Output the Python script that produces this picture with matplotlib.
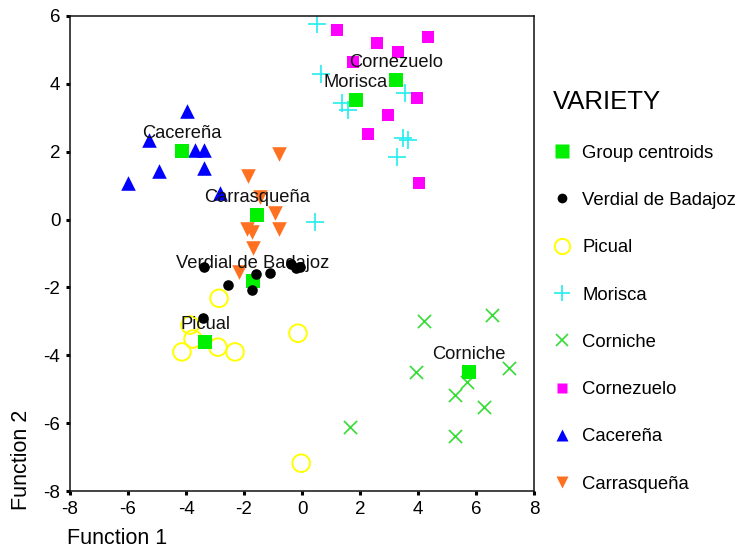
import matplotlib
matplotlib.use("Agg")
import matplotlib.pyplot as plt
from matplotlib.lines import Line2D

plt.rcParams['font.family'] = ['Liberation Sans', 'DejaVu Sans']
plt.rcParams['axes.unicode_minus'] = False

# ---- data ----
centroid_names = ["Cacereña", "Carrasqueña", "Verdial de Badajoz", "Picual",
                  "Morisca", "Cornezuelo", "Corniche"]
centroid_x = [-4.14, -1.55, -1.69, -3.34, 1.86, 3.24, 5.76]
centroid_y = [2.02, 0.13, -1.81, -3.61, 3.52, 4.11, -4.50]

verdial_x = [-3.38, -2.55, -1.59, -1.72, -1.10, -0.38, -0.21, -0.07, -3.41]
verdial_y = [-1.40, -1.94, -1.61, -2.08, -1.58, -1.32, -1.43, -1.40, -2.91]

picual_x = [-2.86, -3.86, -3.76, -4.14, -2.90, -2.31, -0.14, -0.03]
picual_y = [-2.32, -3.11, -3.52, -3.90, -3.76, -3.90, -3.35, -7.18]

morisca_x = [0.52, 0.66, 1.38, 1.59, 3.55, 3.48, 3.66, 3.28, 0.45]
morisca_y = [5.76, 4.29, 3.43, 3.23, 3.73, 2.40, 2.34, 1.84, -0.08]

corniche_x = [4.21, 6.55, 3.93, 7.14, 5.69, 5.28, 6.28, 1.66, 5.28]
corniche_y = [-3.00, -2.82, -4.48, -4.36, -4.80, -5.18, -5.53, -6.12, -6.39]

cornezuelo_x = [1.21, 2.59, 3.31, 4.34, 1.76, 3.97, 2.97, 2.28, 4.03]
cornezuelo_y = [5.58, 5.19, 4.95, 5.37, 4.63, 3.58, 3.08, 2.52, 1.07]

cacerena_x = [-3.97, -5.28, -3.69, -3.38, -4.93, -3.38, -6.00, -2.83]
cacerena_y = [3.20, 2.34, 2.05, 2.05, 1.43, 1.52, 1.07, 0.78]

carrasquena_x = [-0.79, -1.86, -1.45, -0.93, -1.90, -1.72, -0.79, -1.69, -2.17]
carrasquena_y = [1.93, 1.28, 0.66, 0.19, -0.28, -0.37, -0.28, -0.84, -1.55]

legend_labels = ["Group centroids", "Verdial de Badajoz", "Picual", "Morisca",
                 "Corniche", "Cornezuelo", "Cacereña", "Carrasqueña"]
x_ticks = [-8, -6, -4, -2, 0, 2, 4, 6, 8]
y_ticks = [-8, -6, -4, -2, 0, 2, 4, 6]

# ---- styles ----
C_CENT = '#00f000'
C_VERD = '#000000'
C_PIC = '#ffff00'
C_MOR = '#22eeee'
C_CORN = '#33dd33'
C_CZ = '#ff00ff'
C_CAC = '#0000ff'
C_CAR = '#ff7020'

fig = plt.figure(figsize=(7.39, 5.53), dpi=100)
ax = fig.add_axes([0.0947, 0.1121, 0.628, 0.859])

ax.scatter(cacerena_x, cacerena_y, marker='^', s=110, color=C_CAC, linewidths=0, zorder=2)
ax.scatter(carrasquena_x, carrasquena_y, marker='v', s=110, color=C_CAR, linewidths=0, zorder=2)
ax.scatter(picual_x, picual_y, marker='o', s=160, facecolors='none', edgecolors=C_PIC, linewidths=1.4, zorder=2)
ax.scatter(morisca_x, morisca_y, marker='+', s=150, color=C_MOR, linewidths=1.2, zorder=2)
ax.scatter(corniche_x, corniche_y, marker='x', s=90, color=C_CORN, linewidths=1.2, zorder=2)
ax.scatter(cornezuelo_x, cornezuelo_y, marker='s', s=64, color=C_CZ, linewidths=0, zorder=2)
ax.scatter(centroid_x, centroid_y, marker='s', s=110, color=C_CENT, linewidths=0, zorder=2.5)
ax.scatter(verdial_x, verdial_y, marker='o', s=58, color=C_VERD, linewidths=0, zorder=4)

for name, cx, cy in zip(centroid_names, centroid_x, centroid_y):
    ax.annotate(name, (cx, cy), xytext=(0, 12.5), textcoords='offset points',
                ha='center', va='center', fontsize=13.2, color='#111111', zorder=3)

ax.set_xlim(-8, 8)
ax.set_ylim(-8, 6)
ax.set_xticks(x_ticks)
ax.set_yticks(y_ticks)
ax.tick_params(direction='out', length=3, width=2.2, labelsize=13.5, pad=4, color='black')
for sp in ax.spines.values():
    sp.set_linewidth(1.1)
    sp.set_color('#111111')

fig.text(67 / 739, 1 - 538 / 553, "Function 1", fontsize=15.5, ha='left', va='center')
fig.text(22 / 739, 1 - 510 / 553, "Function 2", fontsize=15.5, rotation=90, ha='center', va='bottom')

handles = [
    Line2D([], [], ls='none', marker='s', ms=10, mfc=C_CENT, mec='none'),
    Line2D([], [], ls='none', marker='o', ms=7, mfc=C_VERD, mec='none'),
    Line2D([], [], ls='none', marker='o', ms=11, mfc='none', mec=C_PIC, mew=1.4),
    Line2D([], [], ls='none', marker='+', ms=12, color=C_MOR, mew=1.2),
    Line2D([], [], ls='none', marker='x', ms=8, color=C_CORN, mew=1.2),
    Line2D([], [], ls='none', marker='s', ms=7.5, mfc=C_CZ, mec='none'),
    Line2D([], [], ls='none', marker='^', ms=9, mfc=C_CAC, mec='none'),
    Line2D([], [], ls='none', marker='v', ms=9, mfc=C_CAR, mec='none'),
]
leg = fig.legend(handles, legend_labels, loc='upper left', bbox_to_anchor=(0.7375, 0.850),
                 frameon=False, title='VARIETY', title_fontsize=18.5, fontsize=13.3,
                 alignment='left', handlelength=1.0, handletextpad=0.62, labelspacing=1.64,
                 borderpad=0.4, borderaxespad=0)

fig.savefig('out.png', dpi=100)
